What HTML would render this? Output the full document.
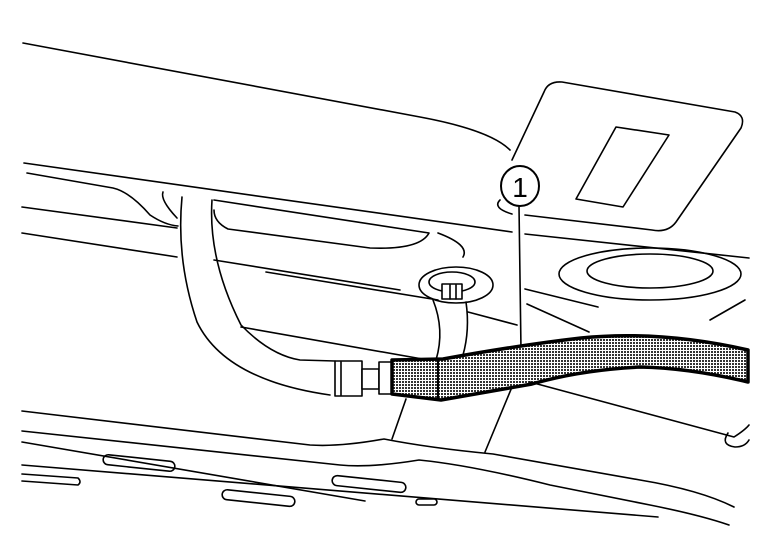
<!DOCTYPE html>
<html><head><style>body{margin:0;background:#fff}svg{display:block}</style></head><body>
<svg width="768" height="544" viewBox="0 0 768 544" xmlns="http://www.w3.org/2000/svg">
<defs>
<pattern id="dots" width="3" height="3" patternUnits="userSpaceOnUse"><rect width="3" height="3" fill="#fff"/><rect width="2" height="2" fill="#333"/></pattern>
</defs>
<g fill="none" stroke="#000" stroke-width="1.6" stroke-linecap="round" stroke-linejoin="round">
<path d="M23 43 L420 117 Q490 130 510 150"/>
<path d="M500 200 Q492 208 512 214"/>
<path d="M512 160 L544 92 Q548 81 562 82 L735 112 Q746 116 741 128 L676 222 Q668 233 652 230 L525 215"/>
<path d="M616 127 L669 135 L623 207 L576 199 Z"/>
<ellipse cx="520" cy="186" rx="19" ry="20" stroke-width="2"/>
<text x="520" y="197" font-family="Liberation Sans, sans-serif" font-size="28" text-anchor="middle" fill="#000" stroke="none">1</text>
<path d="M519 206 L521 350"/>
<path d="M24 163 L512 232"/>
<path d="M525 234 L749 258"/>
<path d="M27 173 L113 188 Q130 192 150 215 Q165 225 178 226"/>
<path d="M22 207 L177 228"/>
<path d="M22 233 L177 257"/>
<path d="M163 192 Q160 200 177 218"/>
<path d="M214 200 L429 233 Q420 250 370 248 L228 229 Q214 222 214 210"/>
<path d="M438 233 Q470 245 463 257"/>
<path d="M214 260 L400 290"/>
<ellipse cx="650" cy="274" rx="91" ry="26"/>
<ellipse cx="650" cy="271" rx="63" ry="17"/>
<path d="M182 197 Q176 260 197 322 Q225 380 330 395"/>
<path d="M212 200 Q208 260 241 325 Q270 355 300 360 L335 361"/>
<path d="M266 272 L438 300"/>
<path d="M241 327 L428 360"/>
<ellipse cx="456" cy="285" rx="37" ry="18"/>
<ellipse cx="452" cy="282" rx="23" ry="10"/>
<rect x="442" y="284" width="20" height="15" fill="#fff"/>
<path d="M450 285 L450 299 M456 285 L456 299"/>
<path d="M433 300 Q445 330 436 360 M466 302 Q470 330 463 355"/>
<path d="M525 289 L598 307 M527 304 L589 332 M468 312 L517 325"/>
<path d="M745 300 L710 320"/>
<rect x="335" y="361" width="27" height="35" fill="#fff"/>
<path d="M341 362 L341 395"/>
<rect x="362" y="369" width="17" height="20" fill="#fff"/>
<rect x="379" y="362" width="13" height="32" fill="#fff"/>
<path d="M392 360 L443 359 Q520 345 581 338 Q660 330 748 350 L748 382 Q690 368 640 367 Q580 370 532 384 L441 400 L392 394 Z" fill="url(#dots)" stroke-width="3.5"/>
<path d="M438 359 L438 400" stroke-width="2"/>
<path d="M530 382 L734 437 Q745 430 749 425"/>
<path d="M728 433 Q720 445 735 447 Q745 447 749 440"/>
<path d="M406 399 L392 439"/>
<path d="M512 387 L485 452"/>
<path d="M22 411 L310 445 Q340 447 384 439 Q430 448 493 454 L640 480 Q700 490 734 507"/>
<path d="M22 431 L340 465 Q370 468 419 460 Q470 465 550 485 L650 505 Q700 515 729 525"/>
<path d="M22 442 L365 501"/>
<path d="M22 465 L658 517"/>
<rect x="103" y="458" width="72" height="10" rx="5" transform="rotate(6 139 463)"/>
<path d="M22 474 L78 478 Q82 482 78 485 L22 481"/>
<rect x="222" y="493" width="73" height="10" rx="5" transform="rotate(6 258 498)"/>
<rect x="332" y="479" width="74" height="10" rx="5" transform="rotate(6 369 484)"/>
<rect x="416" y="499" width="21" height="6" rx="3"/>
</g>
</svg>
</body></html>
